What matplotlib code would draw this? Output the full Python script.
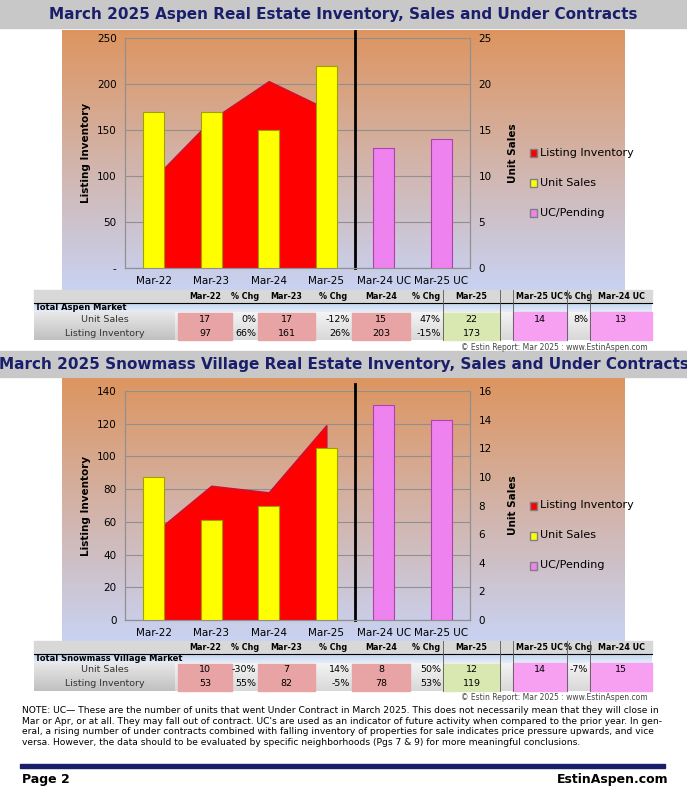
import matplotlib
matplotlib.use("Agg")
import matplotlib.pyplot as plt
import numpy as np
from matplotlib.patches import Rectangle

W, H = 687, 800
categories = ["Mar-22", "Mar-23", "Mar-24", "Mar-25", "Mar-24 UC", "Mar-25 UC"]
aspen_inventory = [97, 161, 203, 173]
aspen_sales = [17, 17, 15, 22]
aspen_uc = [13, 14]
aspen_sales_chg = ["0%", "-12%", "47%"]
aspen_inv_chg = ["66%", "26%", "-15%"]
aspen_uc_chg = "8%"
snow_inventory = [53, 82, 78, 119]
snow_sales = [10, 7, 8, 12]
snow_uc = [15, 14]
snow_sales_chg = ["-30%", "14%", "50%"]
snow_inv_chg = ["55%", "-5%", "53%"]
snow_uc_chg = "-7%"

fig = plt.figure(figsize=(W/100, H/100), dpi=100)
ov = fig.add_axes([0, 0, 1, 1])
ov.set_xlim(0, W); ov.set_ylim(H, 0); ov.axis("off")

NAVY = "#1a1f6b"
def grad(ax_, extent, top, bot, z=0):
    c1 = np.array(matplotlib.colors.to_rgb(top)); c2 = np.array(matplotlib.colors.to_rgb(bot))
    t = np.linspace(0, 1, 100)[:, None]
    img = (c1 * (1 - t) + c2 * t)[:, None, :]
    ax_.imshow(img, extent=extent, aspect="auto", zorder=z)

def title(y0, y1, text):
    ov.add_patch(Rectangle((0, y0), W, y1 - y0, color="#c8c8c8", zorder=1))
    ov.text(W/2, (y0+y1)/2, text, ha="center", va="center", fontsize=11,
            fontweight="bold", color=NAVY, zorder=2)

def panel(y0, y1, plot_y0, plot_y1, inv, sales, uc, lmax, lstep, rmax, rstep, zero_left):
    grad(ov, (62, 625, y1, y0), "#dd9560", "#c8d2f2", z=1)
    left, right = 125, 470
    ax = fig.add_axes([left/W, 1 - plot_y1/H, (right-left)/W, (plot_y1-plot_y0)/H])
    ax.patch.set_alpha(0)
    ax.set_xlim(-0.5, 5.5); ax.set_ylim(0, lmax)
    ax.fill_between(np.arange(len(inv)), inv, color="#ff0000", ec="#d01030", lw=1.2, zorder=2)
    yt = np.arange(0, lmax + 1, lstep)
    ax.set_yticks(yt)
    ax.set_yticklabels([zero_left if v == 0 else str(v) for v in yt], fontsize=7.5)
    ax.set_xticks(range(6)); ax.set_xticklabels(categories, fontsize=7.5)
    ax.grid(axis="y", color="#909090", lw=0.8)
    for s in ax.spines.values(): s.set_color("#909090")
    ax.spines["top"].set_visible(False)
    ax.tick_params(length=0, pad=6)
    ax.set_ylabel("Listing Inventory", fontsize=7.5, fontweight="bold")
    ax2 = ax.twinx()
    ax2.set_ylim(0, rmax)
    ax2.set_yticks(np.arange(0, rmax + 1, rstep))
    ax2.tick_params(labelsize=7.5, length=0, pad=6)
    ax2.spines["top"].set_visible(False)
    for s in ax2.spines.values(): s.set_color("#909090")
    ax2.bar(range(4), sales, width=0.36, color="#ffff00", ec="#a0a000", lw=0.8, zorder=3)
    ax2.bar([4, 5], uc, width=0.36, color="#ee82ee", ec="#b040b0", lw=0.8, zorder=3)
    ax2.axvline(3.5, color="black", lw=2, ymax=1.03, clip_on=False)
    ax2.set_ylabel("Unit Sales", fontsize=7.5, fontweight="bold")
    ax2.yaxis.set_label_coords(1.11, 0.5)
    ly = (plot_y0 + plot_y1) / 2 + 30
    for i, (c, t) in enumerate([("#ff0000", "Listing Inventory"), ("#ffff00", "Unit Sales"), ("#ee82ee", "UC/Pending")]):
        yy = ly - 30 + i * 30
        ov.add_patch(Rectangle((530, yy - 4), 7, 8, color=c, ec="#808080", zorder=3))
        ov.text(540, yy, t, va="center", fontsize=8, zorder=3)

cols = [("Mar-22", 178, 232), ("% Chg", 232, 258), ("Mar-23", 258, 315), ("% Chg", 315, 352),
        ("Mar-24", 352, 410), ("% Chg", 410, 443), ("Mar-25", 443, 500),
        ("Mar-25 UC", 513, 567), ("% Chg", 567, 590), ("Mar-24 UC", 590, 652)]
def table(y0, market, sales, inv, uc, sc, ic, ucc):
    ov.add_patch(Rectangle((34, y0), 618, 13, color="#d8d8d8", zorder=1))
    for t, a, b in cols:
        ov.text((a+b)/2, y0 + 6.5, t, ha="center", va="center", fontsize=5.8, fontweight="bold", zorder=3)
    ov.plot([34, 652], [y0 + 13, y0 + 13], color="black", lw=0.8, zorder=3)
    grad(ov, (34, 652, y0 + 22, y0 + 13), "#c0d4f0", "#e8eef8", z=1)
    ov.text(35, y0 + 17.5, market, va="center", fontsize=6, fontweight="bold", zorder=3)
    grad(ov, (34, 175, y0 + 50, y0 + 22), "#e8e8e8", "#c0c0c0", z=1)
    grad(ov, (175, 652, y0 + 50, y0 + 22), "#f4f4f4", "#d8d8d8", z=1)
    for r, (lab, vals, chg) in enumerate([("Unit Sales", sales, sc), ("Listing Inventory", inv, ic)]):
        yy = y0 + 22 + r * 14
        ov.text(105, yy + 7, lab, ha="center", va="center", fontsize=6.8, color="#333", zorder=3)
        for k in range(4):
            t, a, b = cols[2 * k]
            col = "#d8e8b0" if k == 3 else "#e8a4a4"
            ov.add_patch(Rectangle((a, yy + 0.5), b - a, 13, color=col, zorder=2))
            ov.text((a+b)/2, yy + 7, str(vals[k]), ha="center", va="center", fontsize=6.8, zorder=3)
            if k < 3:
                t2, a2, b2 = cols[2 * k + 1]
                ov.text(b2 - 2, yy + 7, chg[k], ha="right", va="center", fontsize=6.8, zorder=3)
    yy = y0 + 22
    for j, v in [(7, uc[1]), (9, uc[0])]:
        t, a, b = cols[j]
        ov.add_patch(Rectangle((a, yy), b - a, 28, color="#f7a0f2", zorder=2))
        ov.text((a+b)/2, yy + 7, str(v), ha="center", va="center", fontsize=6.8, zorder=3)
    ov.text(588, yy + 7, ucc, ha="right", va="center", fontsize=6.8, zorder=3)
    for x in [443, 500, 513, 567, 590]:
        ov.plot([x, x], [y0, y0 + 50], color="#555", lw=0.6, zorder=3)
    ov.text(648, y0 + 57, "© Estin Report: Mar 2025 : www.EstinAspen.com", ha="right", va="center", fontsize=5.5, color="#444", zorder=3)

title(0, 28, "March 2025 Aspen Real Estate Inventory, Sales and Under Contracts")
panel(30, 290, 38, 268, aspen_inventory, aspen_sales, aspen_uc, 250, 50, 25, 5, "-")
table(290, "Total Aspen Market", aspen_sales, aspen_inventory, aspen_uc, aspen_sales_chg, aspen_inv_chg, aspen_uc_chg)
title(351, 377, "March 2025 Snowmass Village Real Estate Inventory, Sales and Under Contracts")
panel(378, 641, 391, 620, snow_inventory, snow_sales, snow_uc, 140, 20, 16, 2, "0")
table(641, "Total Snowmass Village Market", snow_sales, snow_inventory, snow_uc, snow_sales_chg, snow_inv_chg, snow_uc_chg)

note = ("NOTE: UC\u2014 These are the number of units that went Under Contract in March 2025. This does not necessarily mean that they will close in\n"
        "Mar or Apr, or at all. They may fall out of contract. UC's are used as an indicator of future activity when compared to the prior year. In gen-\n"
        "eral, a rising number of under contracts combined with falling inventory of properties for sale indicates price pressure upwards, and vice\n"
        "versa. However, the data should to be evaluated by specific neighborhoods (Pgs 7 & 9) for more meaningful conclusions.")
ov.text(22, 706, note, va="top", fontsize=6.6, linespacing=1.25, zorder=3)
ov.add_patch(Rectangle((20, 764), 645, 4, color=NAVY, zorder=3))
ov.text(22, 780, "Page 2", fontsize=9, fontweight="bold", va="center", zorder=3)
ov.text(668, 780, "EstinAspen.com", fontsize=9, fontweight="bold", va="center", ha="right", zorder=3)

fig.savefig("out.png", dpi=100)
